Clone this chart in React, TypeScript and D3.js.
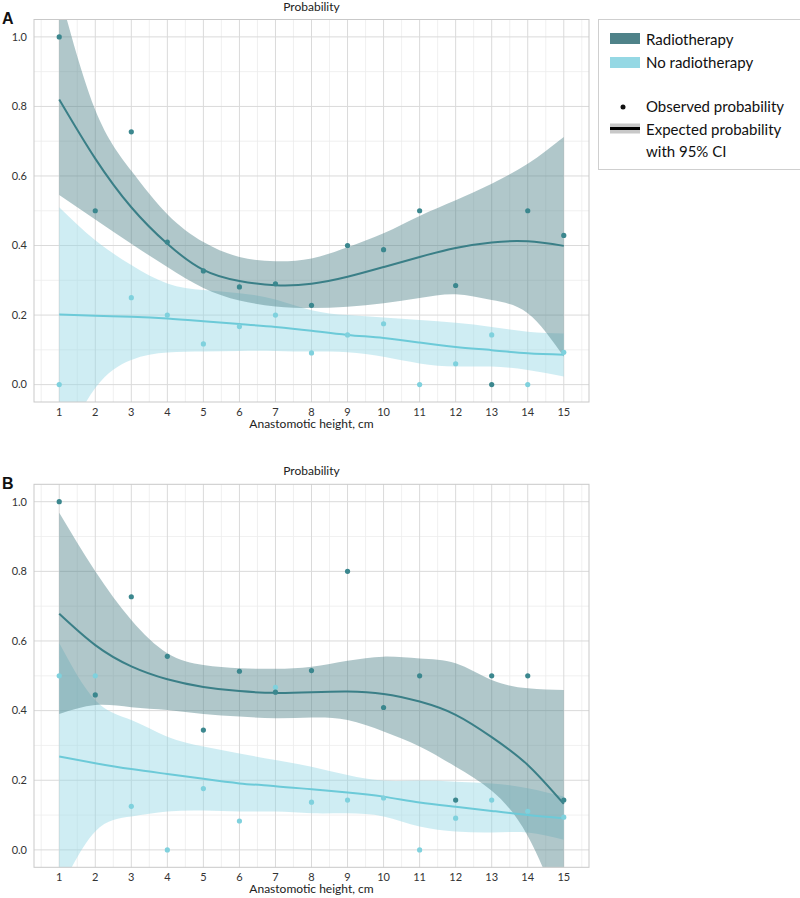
import React from "react";
import * as d3 from "d3";

// ---------- Data ----------
const heights = [1, 2, 3, 4, 5, 6, 7, 8, 9, 10, 11, 12, 13, 14, 15];
const yTicks = [0, 0.2, 0.4, 0.6, 0.8, 1.0];

// Panel A
const aRadObs = [1.0, 0.5, 0.727, 0.41, 0.327, 0.281, 0.29, 0.228, 0.4, 0.388, 0.5, 0.285, 0.0, 0.5, 0.429];
const aNoObs: (number | null)[] = [0.0, null, 0.25, 0.2, 0.117, 0.167, 0.2, 0.091, 0.143, 0.175, 0.0, 0.06, 0.143, 0.0, 0.093];
const aRadFit = [0.82, 0.65, 0.51, 0.405, 0.33, 0.298, 0.286, 0.29, 0.31, 0.338, 0.367, 0.393, 0.409, 0.412, 0.399];
const aRadLo = [0.545, 0.475, 0.405, 0.338, 0.278, 0.242, 0.225, 0.22, 0.224, 0.234, 0.249, 0.26, 0.243, 0.205, 0.08];
const aRadHi = [1.13, 0.79, 0.615, 0.49, 0.41, 0.367, 0.355, 0.363, 0.395, 0.435, 0.485, 0.53, 0.578, 0.635, 0.712];
const aNoFit = [0.202, 0.198, 0.195, 0.19, 0.182, 0.174, 0.166, 0.155, 0.143, 0.134, 0.121, 0.108, 0.099, 0.09, 0.086];
const aNoLo = [-0.2, -0.01, 0.071, 0.092, 0.095, 0.097, 0.097, 0.095, 0.093, 0.08, 0.061, 0.052, 0.052, 0.042, 0.023];
const aNoHi = [0.51, 0.415, 0.344, 0.291, 0.272, 0.263, 0.245, 0.214, 0.2, 0.193, 0.186, 0.178, 0.166, 0.152, 0.147];

// Panel B
const bRadObs = [1.0, 0.445, 0.727, 0.556, 0.344, 0.513, 0.453, 0.515, 0.8, 0.409, 0.5, 0.143, 0.5, 0.5, 0.143];
const bNoObs: (number | null)[] = [0.5, 0.5, 0.125, 0.0, 0.176, 0.083, 0.467, 0.137, 0.143, 0.149, 0.0, 0.091, 0.143, 0.111, 0.094];
const bRadFit = [0.678, 0.588, 0.527, 0.49, 0.468, 0.456, 0.451, 0.453, 0.455, 0.448, 0.426, 0.388, 0.324, 0.244, 0.132];
const bRadLo = [0.39, 0.416, 0.41, 0.402, 0.39, 0.383, 0.378, 0.38, 0.373, 0.34, 0.297, 0.239, 0.17, 0.04, -0.2];
const bRadHi = [0.968, 0.8, 0.66, 0.565, 0.531, 0.522, 0.52, 0.526, 0.543, 0.555, 0.55, 0.536, 0.488, 0.464, 0.459];
const bNoFit = [0.268, 0.249, 0.232, 0.218, 0.204, 0.191, 0.183, 0.174, 0.165, 0.153, 0.136, 0.124, 0.112, 0.1, 0.091];
const bNoLo = [-0.12, 0.053, 0.096, 0.11, 0.113, 0.11, 0.11, 0.105, 0.105, 0.096, 0.067, 0.053, 0.05, 0.05, 0.029];
const bNoHi = [0.594, 0.43, 0.373, 0.325, 0.297, 0.277, 0.258, 0.239, 0.215, 0.199, 0.199, 0.196, 0.191, 0.177, 0.153];

const legendGroups = ["Radiotherapy", "No radiotherapy"];

// ---------- Styles ----------
const FONT = "Lato, 'Noto Sans', sans-serif";
const DARK_LINE = "#3a7f87";
const DARK_PT = "#3b878e";
const DARK_BAND = "#4f8289";
const LIGHT_LINE = "#6ccad8";
const LIGHT_PT = "#7fd1dd";
const LIGHT_BAND = "#95d8e4";
const BAND_OPACITY = 0.45;

const LEFT = 34;
const RIGHT = 589;

type PanelProps = {
  id: string;
  label: string;
  top: number;
  bottom: number;
  radObs: number[];
  noObs: (number | null)[];
  radFit: number[];
  radLo: number[];
  radHi: number[];
  noFit: number[];
  noLo: number[];
  noHi: number[];
};

function Panel(p: PanelProps) {
  const x = d3.scaleLinear().domain([0.3, 15.7]).range([LEFT, RIGHT]);
  const y = d3.scaleLinear().domain([-0.05, 1.05]).range([p.bottom, p.top]);

  const line = (vals: number[]) =>
    d3
      .line<number>()
      .x((_, i) => x(heights[i]))
      .y((v) => y(v))
      .curve(d3.curveNatural)(vals) || "";
  const area = (lo: number[], hi: number[]) =>
    d3
      .area<number>()
      .x((_, i) => x(heights[i]))
      .y0((_, i) => y(lo[i]))
      .y1((_, i) => y(hi[i]))
      .curve(d3.curveNatural)(heights) || "";

  const majorX = heights;
  const minorX = d3.range(0.5, 16, 1);
  const majorY = yTicks;
  const minorY = [0.1, 0.3, 0.5, 0.7, 0.9];
  const clipId = `clip-${p.id}`;
  const midX = (LEFT + RIGHT) / 2;

  return (
    <g>
      <defs>
        <clipPath id={clipId}>
          <rect x={LEFT} y={p.top} width={RIGHT - LEFT} height={p.bottom - p.top} />
        </clipPath>
      </defs>
      <text x={2} y={p.top + 4.5} fontFamily="Arial, 'Liberation Sans', sans-serif" fontWeight="bold" fontSize={16} fill="#111">
        {p.label}
      </text>
      <text x={midX} y={Math.max(p.top - 9, 11)} textAnchor="middle" fontFamily={FONT} fontSize={12} fill="#222">
        Probability
      </text>
      <rect x={LEFT} y={p.top} width={RIGHT - LEFT} height={p.bottom - p.top} fill="#fff" />
      {minorX.map((v) => (
        <line key={`mx${v}`} x1={x(v)} x2={x(v)} y1={p.top} y2={p.bottom} stroke="#ececec" strokeWidth={0.8} />
      ))}
      {minorY.map((v) => (
        <line key={`my${v}`} x1={LEFT} x2={RIGHT} y1={y(v)} y2={y(v)} stroke="#ececec" strokeWidth={0.8} />
      ))}
      {majorX.map((v) => (
        <line key={`Mx${v}`} x1={x(v)} x2={x(v)} y1={p.top} y2={p.bottom} stroke="#dadada" strokeWidth={1} />
      ))}
      {majorY.map((v) => (
        <line key={`My${v}`} x1={LEFT} x2={RIGHT} y1={y(v)} y2={y(v)} stroke="#dadada" strokeWidth={1} />
      ))}
      <g clipPath={`url(#${clipId})`}>
        <path d={area(p.noLo, p.noHi)} fill={LIGHT_BAND} fillOpacity={BAND_OPACITY} />
        <path d={area(p.radLo, p.radHi)} fill={DARK_BAND} fillOpacity={BAND_OPACITY} />
        <path d={line(p.noFit)} fill="none" stroke={LIGHT_LINE} strokeWidth={2} />
        <path d={line(p.radFit)} fill="none" stroke={DARK_LINE} strokeWidth={2} />
      </g>
      {p.noObs.map((v, i) =>
        v === null ? null : <circle key={`n${i}`} cx={x(heights[i])} cy={y(v)} r={2.6} fill={LIGHT_PT} />
      )}
      {p.radObs.map((v, i) => (
        <circle key={`r${i}`} cx={x(heights[i])} cy={y(v)} r={2.6} fill={DARK_PT} />
      ))}
      <rect x={LEFT} y={p.top} width={RIGHT - LEFT} height={p.bottom - p.top} fill="none" stroke="#c9c9c9" strokeWidth={1} />
      {yTicks.map((v) => (
        <text key={`yt${v}`} x={LEFT - 7} y={y(v) + 3.8} textAnchor="end" fontFamily={FONT} fontSize={11} fill="#333">
          {v.toFixed(1)}
        </text>
      ))}
      {heights.map((v) => (
        <text key={`xt${v}`} x={x(v)} y={p.bottom + 13.5} textAnchor="middle" fontFamily={FONT} fontSize={11} fill="#333">
          {v}
        </text>
      ))}
      <text x={midX} y={p.bottom + 26} textAnchor="middle" fontFamily={FONT} fontSize={12} fill="#222">
        Anastomotic height, cm
      </text>
    </g>
  );
}

function Legend() {
  return (
    <g fontFamily={FONT} fontSize={15} fill="#111">
      <rect x={598.5} y={19.5} width={215} height={150} fill="#fff" stroke="#cfcfcf" />
      <rect x={610} y={33} width={30} height={11} fill={DARK_BAND} />
      <text x={646} y={44.5}>{legendGroups[0]}</text>
      <rect x={610} y={57} width={30} height={11} fill={LIGHT_BAND} />
      <text x={646} y={67.5}>{legendGroups[1]}</text>
      <circle cx={623} cy={107} r={2.5} fill="#111" />
      <text x={646} y={112}>Observed probability</text>
      <rect x={610} y={123.5} width={30} height={10} fill="#c8c8c8" />
      <line x1={610} x2={640} y1={128.5} y2={128.5} stroke="#000" strokeWidth={3} />
      <text x={646} y={134.5}>Expected probability</text>
      <text x={646} y={157}>with 95% CI</text>
    </g>
  );
}

export default function App() {
  return (
    <svg
      width={800}
      height={898}
      style={{ position: "absolute", left: 0, top: 0, background: "#fff" }}
    >
      <rect width={800} height={898} fill="#fff" />
      <Panel
        id="a"
        label="A"
        top={19.5}
        bottom={402}
        radObs={aRadObs}
        noObs={aNoObs}
        radFit={aRadFit}
        radLo={aRadLo}
        radHi={aRadHi}
        noFit={aNoFit}
        noLo={aNoLo}
        noHi={aNoHi}
      />
      <Panel
        id="b"
        label="B"
        top={484.3}
        bottom={867.3}
        radObs={bRadObs}
        noObs={bNoObs}
        radFit={bRadFit}
        radLo={bRadLo}
        radHi={bRadHi}
        noFit={bNoFit}
        noLo={bNoLo}
        noHi={bNoHi}
      />
      <Legend />
    </svg>
  );
}
